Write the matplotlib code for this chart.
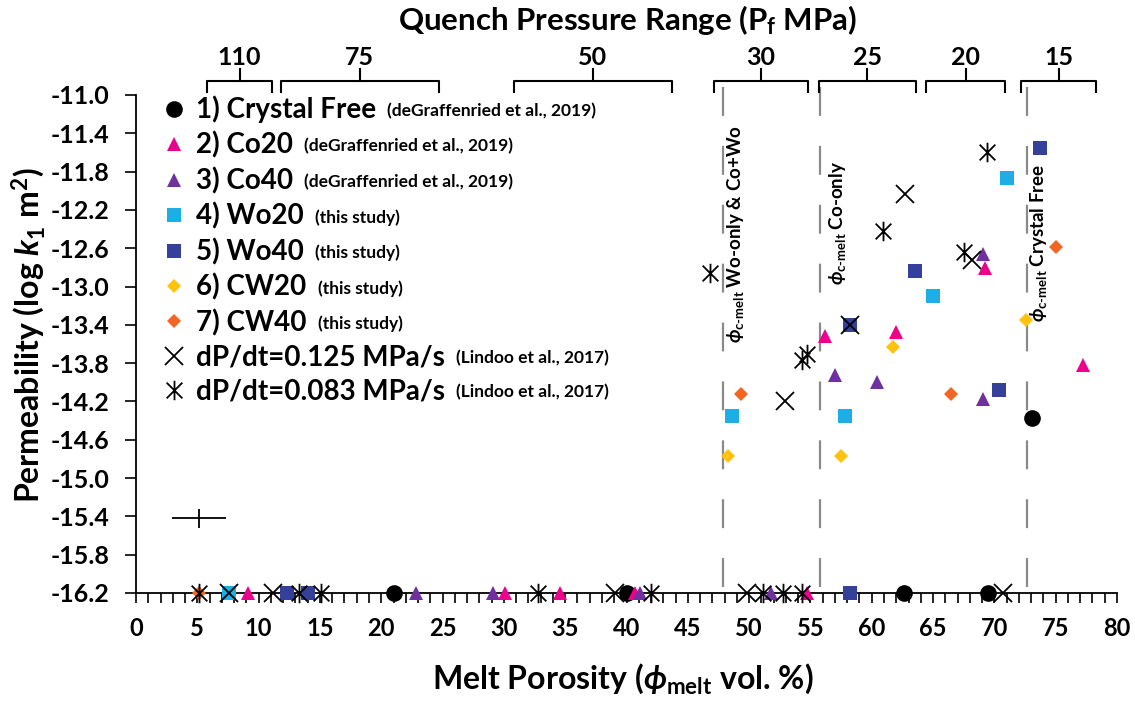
import numpy as np
import matplotlib
matplotlib.use('Agg')
import matplotlib.pyplot as plt
import matplotlib.transforms as mtransforms
from matplotlib.path import Path
from matplotlib.ticker import MultipleLocator

plt.rcParams['font.family'] = ['Lato', 'DejaVu Sans']
plt.rcParams['font.weight'] = 'bold'
plt.rcParams['mathtext.fontset'] = 'custom'
plt.rcParams['mathtext.rm'] = 'Lato'
plt.rcParams['mathtext.it'] = 'Lato:italic'
plt.rcParams['mathtext.bf'] = 'Lato:bold'

# --- data: melt porosity (vol. %) and log permeability ---
cf_x = [21.0, 40.0, 62.6, 69.5, 73.1]
cf_y = [-16.2, -16.2, -16.2, -16.2, -14.37]

co20_x = [9.1, 30.1, 34.6, 40.7, 54.7, 56.2, 62.0, 69.2, 77.2]
co20_y = [-16.2, -16.2, -16.2, -16.2, -16.2, -13.52, -13.47, -12.81, -13.82]

co40_x = [22.8, 29.1, 41.1, 51.8, 57.0, 60.4, 69.1, 69.1]
co40_y = [-16.2, -16.2, -16.2, -16.2, -13.92, -14.00, -14.17, -12.66]

wo20_x = [7.6, 48.6, 57.8, 65.0, 71.0]
wo20_y = [-16.2, -14.35, -14.35, -13.10, -11.87]

wo40_x = [12.3, 14.0, 58.2, 58.2, 63.5, 70.4, 73.7]
wo40_y = [-16.2, -16.2, -16.2, -13.40, -12.84, -14.08, -11.55]

cw20_x = [48.3, 57.5, 61.7, 72.6]
cw20_y = [-14.77, -14.77, -13.63, -13.35]

cw40_x = [5.1, 49.3, 66.5, 75.0]
cw40_y = [-16.2, -14.12, -14.12, -12.59]

l125_x = [7.6, 11.2, 39.1, 49.8, 70.7, 52.9, 58.2, 62.7, 68.2]
l125_y = [-16.2, -16.2, -16.2, -16.2, -16.2, -14.20, -13.40, -12.03, -12.72]

l083_x = [5.1, 13.3, 15.1, 32.8, 42.0, 51.1, 52.8, 54.3, 46.8, 54.7, 54.3, 60.9, 67.5, 69.4]
l083_y = [-16.2, -16.2, -16.2, -16.2, -16.2, -16.2, -16.2, -16.2,
          -12.86, -13.70, -13.77, -12.42, -12.64, -11.59]

# typical error
err_x, err_y = [5.1], [-15.42]
err_dx, err_dy = 2.2, 0.1

# critical melt fraction lines
phi_c = [47.9, 55.8, 72.7]
phi_c_labels = ['Wo-only & Co+Wo', 'Co-only', 'Crystal Free']
phi_c_text_x = [48.9, 57.2, 73.6]
phi_c_text_y = [-13.59, -12.98, -13.37]

# quench pressure ranges on top
p_labels = ['110', '75', '50', '30', '25', '20', '15']
p_lo = [5.8, 11.8, 30.8, 47.1, 55.7, 64.4, 72.2]
p_hi = [11.1, 24.7, 43.7, 54.8, 63.6, 70.9, 78.3]

# asterisk marker (x with a vertical bar)
ast = Path([(-0.5, -0.5), (0.5, 0.5), (-0.5, 0.5), (0.5, -0.5), (0, -0.62), (0, 0.62)],
           [Path.MOVETO, Path.LINETO, Path.MOVETO, Path.LINETO, Path.MOVETO, Path.LINETO])

fig = plt.figure(figsize=(11.35, 7.04), dpi=100)
ax = fig.add_axes([136 / 1135, 111 / 704, 981 / 1135, 498 / 704])

series = [
    (cf_x, cf_y, 'o', 'black', 12, '1) Crystal Free', '(deGraffenried et al., 2019)'),
    (co20_x, co20_y, '^', '#EC008C', 10, '2) Co20', '(deGraffenried et al., 2019)'),
    (co40_x, co40_y, '^', '#7030A0', 10, '3) Co40', '(deGraffenried et al., 2019)'),
    (wo20_x, wo20_y, 's', '#1EAEE6', 10.5, '4) Wo20', '(this study)'),
    (wo40_x, wo40_y, 's', '#34409A', 10.5, '5) Wo40', '(this study)'),
    (cw20_x, cw20_y, 'D', '#FFC20E', 6.8, '6) CW20', '(this study)'),
    (cw40_x, cw40_y, 'D', '#F26522', 6.8, '7) CW40', '(this study)'),
]
handles = []
cites = []
for xs, ys, m, c, ms, lab, cite in series:
    h, = ax.plot(xs, ys, linestyle='none', marker=m, color=c, markersize=ms,
                 markeredgewidth=0, label=lab, clip_on=False, zorder=4)
    handles.append(h)
    cites.append(cite)

h, = ax.plot(l125_x, l125_y, linestyle='none', marker='x', color='black', markersize=13,
             markeredgewidth=1.3, label='dP/dt=0.125 MPa/s', clip_on=False, zorder=5)
handles.append(h)
cites.append('(Lindoo et al., 2017)')
h, = ax.plot(l083_x, l083_y, linestyle='none', marker=ast, color='black', markersize=14,
             markerfacecolor='none', markeredgewidth=1.3, label='dP/dt=0.083 MPa/s',
             clip_on=False, zorder=5)
handles.append(h)
cites.append('(Lindoo et al., 2017)')

ax.errorbar(err_x, err_y, xerr=err_dx, yerr=err_dy, fmt='none', ecolor='black',
            elinewidth=1.3, capsize=0)

# dashed critical lines, running up into the bracket area
ax.vlines(phi_c, -10.92, -16.2, colors='#8a8a8a', linewidth=1.6,
          linestyles=[(0, (13, 13.5))], clip_on=False, zorder=2)
phi_sub = '$\\phi_{\\mathregular{c\u2010melt}}$ '
for x, y, lab in zip(phi_c_text_x, phi_c_text_y, phi_c_labels):
    ax.text(x, y, phi_sub + lab, rotation=90, ha='center',
            va='bottom', fontsize=13.5, fontweight='bold')

ax.set_xlim(0, 80)
ax.set_ylim(-16.2, -11.0)
ax.spines['top'].set_visible(False)
ax.spines['right'].set_visible(False)
for s in ['left', 'bottom']:
    ax.spines[s].set_linewidth(1.3)

ax.set_xticks(np.arange(0, 81, 5))
ax.xaxis.set_minor_locator(MultipleLocator(1))
yt = np.arange(-16.2, -10.95, 0.4)
ax.set_yticks(yt, labels=[f'{v:.1f}' for v in yt])
ax.tick_params(axis='x', which='both', direction='out', length=7, width=1.2,
               labelsize=17, pad=10)
ax.tick_params(axis='y', which='major', direction='out', length=8, width=1.2,
               labelsize=18, pad=11)
for t in ax.get_xticklabels() + ax.get_yticklabels():
    t.set_fontweight('bold')

# legend
leg = ax.legend(handles=handles, loc='upper left', bbox_to_anchor=(0.141, 0.864),
                bbox_transform=fig.transFigure, frameon=False, fontsize=20,
                handlelength=1.0, handletextpad=0.3, labelspacing=0.3, borderpad=0,
                borderaxespad=0)
for txt, cite in zip(leg.get_texts(), cites):
    txt.set_fontweight('bold')
    ax.annotate(cite, xy=(1, 0), xycoords=txt, xytext=(8, 3), textcoords='offset points',
                fontsize=12.5, fontweight='bold', va='bottom', ha='left', zorder=10)

# quench pressure brackets
tr = mtransforms.blended_transform_factory(ax.transData, fig.transFigure)
for lo, hi, lab in zip(p_lo, p_hi, p_labels):
    mid = (lo + hi) / 2
    ax.plot([lo, lo, hi, hi], [0.869, 0.885, 0.885, 0.869], color='black', lw=1.5,
            transform=tr, clip_on=False)
    ax.plot([mid, mid], [0.885, 0.902], color='black', lw=1.5, transform=tr, clip_on=False)
    ax.text(mid, 0.919, lab, transform=tr, ha='center', va='center', fontsize=18,
            fontweight='bold')

fig.text(0.553, 0.971, r'Quench Pressure Range (P$_{\mathregular{f}}$ MPa)', ha='center',
         va='center', fontsize=22.5, fontweight='bold')
fig.text(0.549, 0.036, r'Melt Porosity ($\phi_{\mathregular{melt}}$ vol. %)', ha='center',
         va='center', fontsize=23, fontweight='bold')
fig.text(0.025, 0.524, r'Permeability (log $\mathit{k}_{\mathregular{1}}$ m$^{\mathbf{2}}$)',
         rotation=90, ha='center', va='center', fontsize=23, fontweight='bold')

fig.savefig('out.png', dpi=100)
